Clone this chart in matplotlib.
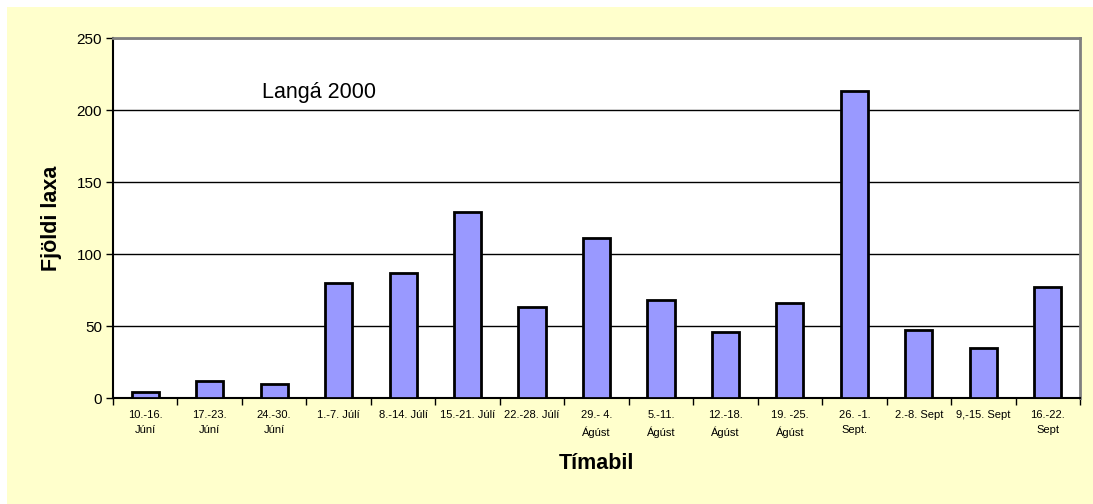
import matplotlib.pyplot as plt
import numpy as np
from matplotlib.patches import Rectangle

plt.rcParams['font.family'] = ['Liberation Sans', 'DejaVu Sans']

timabil = ["10.-16.\nJúní", "17.-23.\nJúní", "24.-30.\nJúní", "1.-7. Júlí",
           "8.-14. Júlí", "15.-21. Júlí", "22.-28. Júlí", "29.- 4.\nÁgúst",
           "5.-11.\nÁgúst", "12.-18.\nÁgúst", "19. -25.\nÁgúst", "26. -1.\nSept.",
           "2.-8. Sept", "9,-15. Sept", "16.-22.\nSept"]
fjoldi = [4, 12, 10, 80, 87, 129, 63, 111, 68, 46, 66, 213, 47, 35, 77]

fig = plt.figure(figsize=(10.93, 5.04), dpi=100, facecolor="white")
fig.patches.append(Rectangle((7 / 1093, 0), 1, 1 - 7 / 504, transform=fig.transFigure,
                             facecolor="#FFFFCC", edgecolor="none", zorder=-10))
ax = fig.add_axes([113 / 1093, 1 - 398 / 504, (1080 - 113) / 1093, 360 / 504])
ax.set_facecolor("white")

x = np.arange(len(fjoldi))
ax.bar(x, fjoldi, width=0.42, color="#9999FF", edgecolor="black", linewidth=2, zorder=3)

ax.set_xlim(-0.5, len(fjoldi) - 0.5)
ax.set_ylim(0, 250)
ax.set_yticks(np.arange(0, 251, 50))
ax.yaxis.grid(True, color="black", linewidth=1)
ax.set_axisbelow(True)

ax.set_xticks(x)
ax.set_xticklabels(timabil, fontsize=8, linespacing=1.6)
ax.set_xticks(np.arange(-0.5, len(fjoldi), 1), minor=True)
ax.tick_params(axis="x", which="major", length=0, pad=9)
ax.tick_params(axis="x", which="minor", length=5, width=1, direction="out")
ax.tick_params(axis="y", length=5, width=1, labelsize=11, pad=3)

for s in ["top", "right"]:
    ax.spines[s].set_color("#808080")
    ax.spines[s].set_linewidth(2)
for s in ["left", "bottom"]:
    ax.spines[s].set_color("black")
    ax.spines[s].set_linewidth(1.5)

ax.text(1.81, 212, "Langá 2000", fontsize=15.5, va="center", ha="left")
ax.set_xlabel("Tímabil", fontsize=15.5, fontweight="bold", labelpad=11)
ax.set_ylabel("Fjöldi laxa", fontsize=15.5, fontweight="bold", labelpad=10)

fig.savefig("out.png", dpi=100, facecolor=fig.get_facecolor())
